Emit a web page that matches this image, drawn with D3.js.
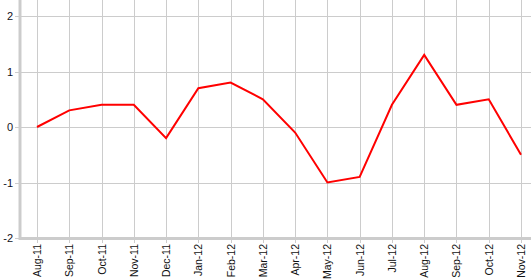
<!DOCTYPE html>
<html>
<head>
<meta charset="utf-8">
<script src="https://cdn.jsdelivr.net/npm/d3@7/dist/d3.min.js"></script>
<style>
  body { margin: 0; background: #fff; }
  svg { display: block; }
  text { font-family: "Liberation Sans", Arial, sans-serif; }
</style>
</head>
<body>
<div class="chart"></div>
<script>
var months = ["Aug-11", "Sep-11", "Oct-11", "Nov-11", "Dec-11", "Jan-12", "Feb-12", "Mar-12",
    "Apr-12", "May-12", "Jun-12", "Jul-12", "Aug-12", "Sep-12", "Oct-12", "Nov-12"];
var values = [0, 0.3, 0.4, 0.4, -0.2, 0.7, 0.8, 0.5, -0.1, -1.0, -0.9, 0.4, 1.3, 0.4, 0.5, -0.5];
var yTicks = [-2, -1, 0, 1, 2];

var width = 531, height = 280;
// plot edges (note: "top" is taken by window.top, so use plotTop)
var plotLeft = 20, plotRight = 531, plotTop = 16, plotBottom = 238;

var svg = d3.select(".chart").append("svg").attr("width", width).attr("height", height);

// x: one point per month, y: -2..2
var x = d3.scalePoint().domain(months).range([37, 521]);
var y = d3.scaleLinear().domain([-2, 2]).range([plotBottom, plotTop]);

// horizontal grid
svg.append("g").selectAll("line").data(yTicks).enter().append("line")
    .attr("x1", plotLeft).attr("x2", plotRight)
    .attr("y1", function(d) { return Math.round(y(d)) + 0.5; })
    .attr("y2", function(d) { return Math.round(y(d)) + 0.5; })
    .attr("stroke", "#cccccc").attr("stroke-width", 1);

// vertical grid
svg.append("g").selectAll("line").data(months).enter().append("line")
    .attr("x1", function(d) { return Math.round(x(d)) + 0.5; })
    .attr("x2", function(d) { return Math.round(x(d)) + 0.5; })
    .attr("y1", 0).attr("y2", plotBottom + 5)
    .attr("stroke", "#cccccc").attr("stroke-width", 1);

// y tick marks + labels
svg.append("g").selectAll("line").data(yTicks).enter().append("line")
    .attr("x1", 15).attr("x2", plotLeft)
    .attr("y1", function(d) { return Math.round(y(d)) + 0.5; })
    .attr("y2", function(d) { return Math.round(y(d)) + 0.5; })
    .attr("stroke", "#cccccc");
svg.append("g").selectAll("text").data(yTicks).enter().append("text")
    .attr("x", 13).attr("y", function(d) { return y(d) + 4; })
    .attr("text-anchor", "end").attr("font-size", "11px").attr("fill", "#111122")
    .text(function(d) { return d; });

// x labels, rotated
svg.append("g").selectAll("text").data(months).enter().append("text")
    .attr("transform", function(d) { return "translate(" + (x(d) + 4) + "," + 244 + ") rotate(-90)"; })
    .attr("text-anchor", "end").attr("font-size", "10.5px").attr("fill", "#111")
    .text(function(d) { return d; });

// axis lines
svg.append("line").attr("x1", plotLeft).attr("x2", plotLeft).attr("y1", 0).attr("y2", plotBottom + 2)
    .attr("stroke", "#cccccc").attr("stroke-width", 3);
svg.append("line").attr("x1", plotLeft).attr("x2", plotRight).attr("y1", plotBottom + 0.5).attr("y2", plotBottom + 0.5)
    .attr("stroke", "#cccccc").attr("stroke-width", 3);

// the series
var line = d3.line()
    .x(function(d, i) { return x(months[i]); })
    .y(function(d) { return y(d); });
svg.append("path").datum(values).attr("d", line)
    .attr("fill", "none").attr("stroke", "#ff0000").attr("stroke-width", 2)
    .attr("stroke-linejoin", "miter");
</script>
</body>
</html>
